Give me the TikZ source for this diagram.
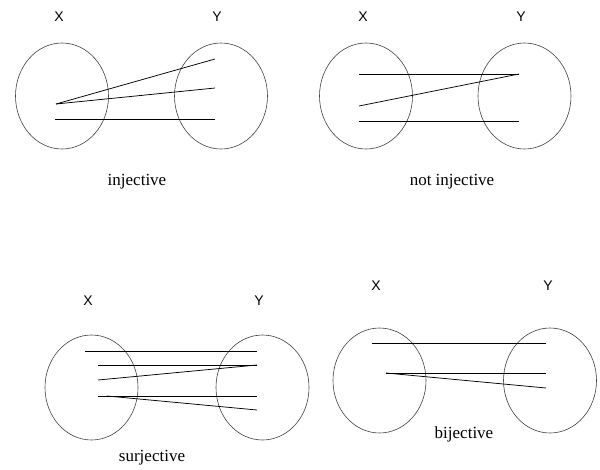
\documentclass[tikz,border=0pt]{standalone}
\usepackage{fontspec}
\setmainfont{Liberation Serif}
\setsansfont{Liberation Sans}

\tikzset{
  setshape/.style={draw=black!75, line width=0.6pt},
  mapline/.style={line width=0.75pt},
  setname/.style={font=\sffamily\fontsize{14}{16}\selectfont},
  caption/.style={font=\fontsize{17}{20}\selectfont},
}

\begin{document}
\begin{tikzpicture}[x=1pt,y=-1pt]
        \useasboundingbox (0,0) rectangle (600,469);

        % Injective
        \draw[setshape] (62,96) ellipse (46.5pt and 53pt);
        \draw[setshape] (221,96) ellipse (46.5pt and 53pt);
        \node[setname] (inj-X) at (59,17) {X};
        \node[setname] (inj-Y) at (217,17) {Y};
        \coordinate (inj-a1) at (56,104);
        \coordinate (inj-a2) at (55,119);
        \coordinate (inj-b1) at (215,59);
        \coordinate (inj-b2) at (215,88);
        \coordinate (inj-b3) at (215,119);
        \draw[mapline] (inj-a1) -- (inj-b1);
        \draw[mapline] (inj-a1) -- (inj-b2);
        \draw[mapline] (inj-a2) -- (inj-b3);
        \node[caption] (inj-cap) at (137,182) {injective};

        % Not injective
        \draw[setshape] (366,96) ellipse (46.5pt and 53pt);
        \draw[setshape] (524.5,96) ellipse (46.5pt and 53pt);
        \node[setname] (ninj-X) at (363,17) {X};
        \node[setname] (ninj-Y) at (521,17) {Y};
        \coordinate (ninj-a1) at (359,74);
        \coordinate (ninj-a2) at (359,106);
        \coordinate (ninj-a3) at (359,121);
        \coordinate (ninj-b1) at (519,74);
        \coordinate (ninj-b3) at (519,121);
        \draw[mapline] (ninj-a1) -- (ninj-b1);
        \draw[mapline] (ninj-a2) -- (ninj-b1);
        \draw[mapline] (ninj-a3) -- (ninj-b3);
        \node[caption] (ninj-cap) at (452,182) {not injective};

        % Surjective
        \draw[setshape] (91.5,387.5) ellipse (46.5pt and 52.5pt);
        \draw[setshape] (262.5,387.5) ellipse (46.5pt and 52.5pt);
        \node[setname] (surj-X) at (88,301) {X};
        \node[setname] (surj-Y) at (259,301) {Y};
        \coordinate (surj-a1) at (85,351);
        \coordinate (surj-a2) at (98,365);
        \coordinate (surj-a3) at (98,380);
        \coordinate (surj-a4) at (98,396);
        \coordinate (surj-a5) at (107,396);
        \coordinate (surj-b1) at (257,351);
        \coordinate (surj-b2) at (257,365);
        \coordinate (surj-b3) at (257,396);
        \coordinate (surj-b4) at (257,410);
        \draw[mapline] (surj-a1) -- (surj-b1);
        \draw[mapline] (surj-a2) -- (surj-b2);
        \draw[mapline] (surj-a3) -- (surj-b2);
        \draw[mapline] (surj-a4) -- (surj-b3);
        \draw[mapline] (surj-a5) -- (surj-b4);
        \node[caption] (surj-cap) at (152,458) {surjective};

        % Bijective
        \draw[setshape] (379.5,380.5) ellipse (46.5pt and 52.5pt);
        \draw[setshape] (550,380.5) ellipse (46.5pt and 52.5pt);
        \node[setname] (bij-X) at (376,286) {X};
        \node[setname] (bij-Y) at (548,286) {Y};
        \coordinate (bij-a1) at (372,343);
        \coordinate (bij-a2) at (386,373);
        \coordinate (bij-b1) at (546,343);
        \coordinate (bij-b2) at (546,373);
        \coordinate (bij-b3) at (546,388);
        \draw[mapline] (bij-a1) -- (bij-b1);
        \draw[mapline] (bij-a2) -- (bij-b2);
        \draw[mapline] (bij-a2) -- (bij-b3);
        \node[caption] (bij-cap) at (464,434) {bijective};
    \end{tikzpicture}
\end{document}
